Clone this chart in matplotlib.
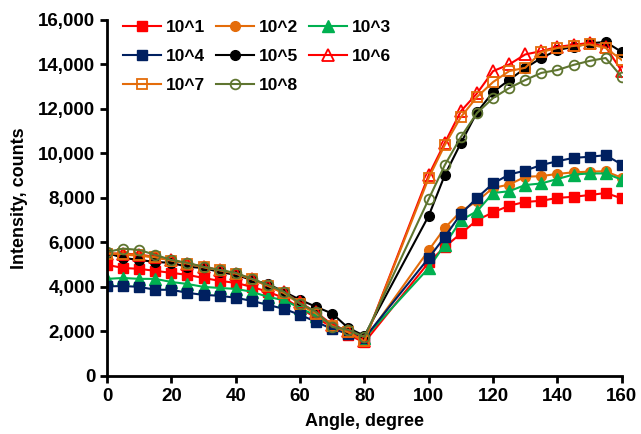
import matplotlib
matplotlib.use('Agg')
import matplotlib.pyplot as plt
from matplotlib.ticker import FuncFormatter

plt.rcParams['font.family'] = ['Liberation Sans', 'DejaVu Sans']

# angles, degree
angles = [0, 5, 10, 15, 20, 25, 30, 35, 40, 45, 50, 55, 60, 65, 70, 75, 80,
          100, 105, 110, 115, 120, 125, 130, 135, 140, 145, 150, 155, 160]

# intensity, counts
s1 = [4990, 4850, 4810, 4720, 4630, 4540, 4400, 4270, 4180, 4000, 3780, 3500, 3050, 2600, 2200, 1850, 1500,
      5100, 5800, 6400, 7000, 7350, 7650, 7820, 7870, 8000, 8050, 8130, 8220, 7980]
s2 = [5500, 5450, 5400, 5330, 5200, 5050, 4900, 4750, 4600, 4350, 4050, 3700, 3250, 2750, 2250, 1950, 1600,
      5650, 6650, 7400, 7850, 8450, 8600, 8950, 8980, 9080, 9150, 9180, 9200, 8900]
s3 = [4360, 4400, 4360, 4360, 4220, 4130, 4000, 3950, 3910, 3780, 3550, 3400, 3050, 2700, 2300, 2000, 1700,
      4850, 5900, 7000, 7400, 8220, 8300, 8580, 8650, 8850, 9050, 9100, 9100, 8820]
s4 = [4020, 4040, 4000, 3870, 3870, 3730, 3640, 3600, 3510, 3370, 3190, 3010, 2740, 2430, 2100, 1900, 1700,
      5300, 6250, 7280, 8000, 8650, 9050, 9230, 9480, 9650, 9800, 9850, 9920, 9500]
s5 = [5530, 5300, 5210, 5120, 5080, 4900, 4850, 4670, 4540, 4310, 4130, 3780, 3420, 3100, 2800, 2150, 1800,
      7200, 9030, 10470, 11850, 12760, 13300, 13840, 14290, 14650, 14790, 14950, 15010, 14560]
s6 = [5500, 5500, 5450, 5350, 5200, 5050, 4900, 4750, 4600, 4350, 4050, 3750, 3300, 2850, 2300, 2000, 1550,
      9030, 10480, 11900, 12700, 13700, 14000, 14450, 14600, 14790, 14880, 14970, 14790, 13700]
s7 = [5500, 5480, 5430, 5330, 5180, 5050, 4880, 4750, 4600, 4350, 4050, 3720, 3250, 2800, 2250, 1950, 1550,
      8900, 10380, 11640, 12540, 13210, 13700, 13850, 14560, 14740, 14830, 14900, 14740, 14200]
s8 = [5570, 5720, 5660, 5440, 5210, 5080, 4900, 4760, 4630, 4360, 4090, 3780, 3250, 2880, 2200, 2070, 1750,
      7950, 9480, 10740, 11820, 12490, 12940, 13300, 13620, 13750, 13980, 14160, 14290, 13440]

labels = ['10^1', '10^2', '10^3', '10^4', '10^5', '10^6', '10^7', '10^8']

fig = plt.figure(figsize=(6.41, 4.34), dpi=100)
ax = fig.add_axes([0.167, 0.134, 0.803, 0.82])

ms = 7
ax.plot(angles, s1, color='#FF0000', marker='s', ms=ms, mfc='#FF0000', mec='#FF0000', lw=1.5, label=labels[0])
ax.plot(angles, s2, color='#E46C0A', marker='o', ms=ms, mfc='#E46C0A', mec='#E46C0A', lw=1.5, label=labels[1])
ax.plot(angles, s3, color='#00B050', marker='^', ms=ms + 1, mfc='#00B050', mec='#00B050', lw=1.5, label=labels[2])
ax.plot(angles, s4, color='#002060', marker='s', ms=ms, mfc='#002060', mec='#002060', lw=1.5, label=labels[3])
ax.plot(angles, s5, color='black', marker='o', ms=ms, mfc='black', mec='black', lw=1.5, label=labels[4])
ax.plot(angles, s6, color='#FF0000', marker='^', ms=ms + 1, mfc='none', mec='#FF0000', mew=1.3, lw=1.5, label=labels[5])
ax.plot(angles, s7, color='#E46C0A', marker='s', ms=ms, mfc='none', mec='#E46C0A', mew=1.3, lw=1.5, label=labels[6])
ax.plot(angles, s8, color='#5F7530', marker='o', ms=ms, mfc='none', mec='#5F7530', mew=1.3, lw=1.5, label=labels[7])

ax.set_xlim(0, 160)
ax.set_ylim(0, 16000)
ax.set_xticks(range(0, 161, 20))
ax.set_yticks(range(0, 16001, 2000))
ax.yaxis.set_major_formatter(FuncFormatter(lambda v, p: f'{int(v):,}'))

for side in ['top', 'right']:
    ax.spines[side].set_visible(False)
for side in ['left', 'bottom']:
    ax.spines[side].set_linewidth(2)
ax.tick_params(direction='out', width=2, length=5, labelsize=13.5)
for lbl in ax.get_xticklabels() + ax.get_yticklabels():
    lbl.set_fontweight('bold')

ax.set_xlabel('Angle, degree', fontsize=13, fontweight='bold', labelpad=6)
ax.set_ylabel('Intensity, counts', fontsize=13, fontweight='bold', labelpad=7)

# legend filled row by row, 3 per row
handles, names = ax.get_legend_handles_labels()
order = [0, 3, 6, 1, 4, 7, 2, 5]
ax.legend([handles[i] for i in order], [names[i] for i in order],
          loc='upper left', bbox_to_anchor=(0.0, 1.045), ncol=3, frameon=False,
          prop={'size': 12.5, 'weight': 'bold'}, handlelength=2.2, handletextpad=0.3,
          columnspacing=0.6, labelspacing=0.8)

fig.savefig('out.png', dpi=100)
